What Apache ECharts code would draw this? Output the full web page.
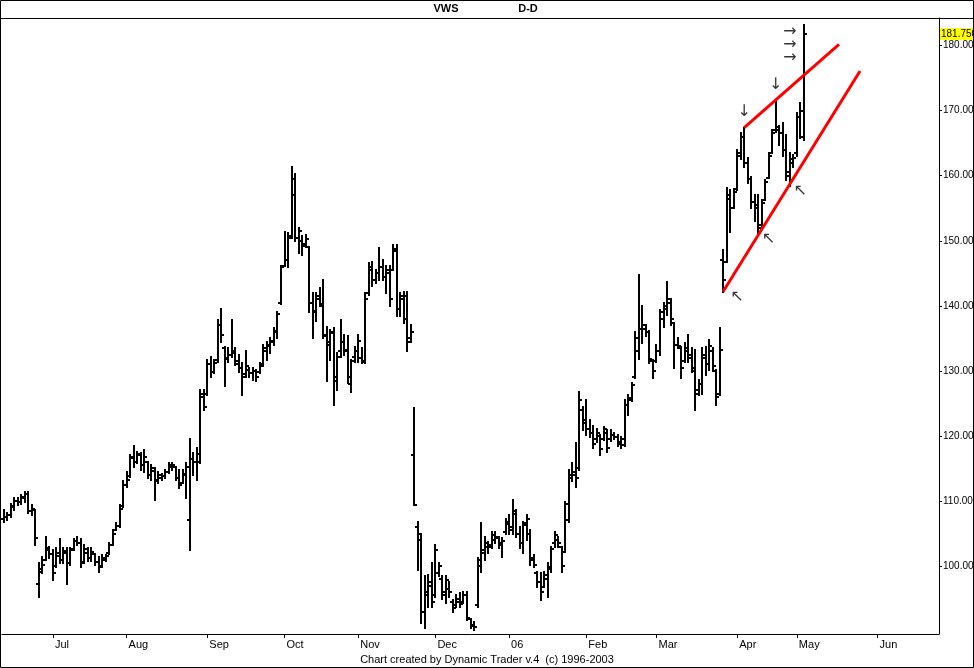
<!DOCTYPE html>
<html>
<head>
<meta charset="utf-8">
<script src="https://cdn.jsdelivr.net/npm/echarts@6/dist/echarts.min.js"></script>
<style>
html,body{margin:0;padding:0;background:#fff;}
#chart{width:974px;height:668px;}
</style>
</head>
<body>
<div id="chart"></div>
<script>
// ---- calendar (Copenhagen trading days) ----
const startDate = '2005-06-13';
const categoryCount = 267;
const holidays = ['2005-12-26', '2006-04-13', '2006-04-14', '2006-04-17'];
const monthLabels = ['06', 'Feb', 'Mar', 'Apr', 'May', 'Jun', 'Jul', 'Aug', 'Sep', 'Oct', 'Nov', 'Dec'];
const yTicks = [100, 110, 120, 130, 140, 150, 160, 170, 180];
const lastPrice = 181.75;

// ---- daily bars: [open, high, low, close] ----
const bars = [
[107.2,108.6,106.8,107.5],[107.5,108.2,107.0,107.8],[107.8,109.6,107.6,109.2],[109.0,110.4,108.6,110.0],
[110.0,110.4,109.4,109.8],[109.8,110.9,109.6,110.6],[110.4,111.4,109.9,111.0],[111.0,111.4,108.1,108.5],
[108.5,109.4,107.8,108.8],[108.6,108.6,103.2,104.3],[97.3,100.4,95.3,99.1],[99.5,101.4,98.9,100.2],
[100.9,104.5,100.9,102.8],[102.5,103.0,101.2,101.8],[101.8,102.5,97.8,99.0],[100.0,102.7,99.9,102.0],
[101.5,104.2,100.4,101.0],[101.0,102.7,100.4,102.3],[102.0,102.7,97.3,100.5],[100.5,102.7,100.2,102.5],
[102.6,104.2,102.5,103.8],[103.8,104.5,103.2,103.6],[103.6,104.2,99.9,100.5],[100.6,103.2,100.4,102.6],
[102.0,102.7,100.7,101.2],[101.2,102.7,100.7,102.2],[101.8,101.9,100.2,100.6],[100.6,101.4,99.1,99.8],
[100.0,101.7,99.9,101.2],[101.0,101.7,100.7,101.5],[102.0,103.5,101.9,103.2],[103.3,105.5,103.2,105.0],
[105.5,106.6,105.5,106.2],[106.2,109.4,106.0,108.8],[109.3,113.0,109.1,112.5],[112.4,114.5,112.2,113.3],
[113.8,117.1,113.7,116.8],[116.6,118.4,115.3,116.0],[116.0,117.6,115.8,117.2],[117.0,117.3,114.8,115.5],
[115.5,117.8,114.5,116.8],[116.0,116.0,113.5,114.0],[114.0,115.5,113.2,115.0],[114.6,115.0,110.2,113.0],
[113.2,114.5,112.7,114.0],[113.6,114.2,113.2,113.8],[113.8,114.8,113.5,114.5],[114.5,115.8,114.3,115.5],
[115.3,115.8,114.8,115.6],[115.3,115.3,113.2,113.6],[113.6,114.8,112.0,112.4],[112.7,114.8,112.7,114.2],
[114.0,115.8,110.4,115.2],[107.1,119.6,102.5,116.5],[116.5,117.3,114.0,116.0],[116.0,118.1,113.2,117.2],
[116.0,127.1,115.8,126.5],[126.0,127.1,124.0,124.5],[126.5,131.7,126.3,131.0],[131.0,132.2,129.1,129.8],
[129.8,131.7,129.6,131.2],[131.6,137.8,131.4,137.0],[137.0,139.5,134.5,135.5],[133.5,133.7,127.6,131.8],
[132.0,133.5,131.4,132.5],[132.5,137.8,132.2,132.8],[133.0,133.5,130.9,131.5],[131.0,132.5,129.9,130.5],
[130.5,131.2,126.3,129.0],[129.5,133.0,129.1,130.8],[130.2,130.4,129.1,129.6],[129.6,130.4,128.6,130.0],
[130.0,130.2,128.4,129.0],[129.8,131.2,129.6,130.8],[131.0,134.0,130.7,133.5],[133.0,134.5,131.7,134.0],
[133.8,135.0,132.7,134.6],[134.5,136.6,134.0,136.2],[136.0,139.1,135.0,138.8],[140.5,146.2,140.3,146.0],
[146.1,151.4,146.1,147.0],[147.0,151.2,146.0,150.5],[150.8,161.4,150.4,157.0],[159.5,160.2,149.9,150.5],
[150.5,152.0,148.1,151.5],[150.0,150.7,147.8,149.2],[149.5,150.9,149.1,150.2],[149.0,149.1,139.1,140.5],
[140.5,141.9,135.0,139.0],[139.2,141.9,137.6,141.5],[141.0,142.7,139.9,140.3],[140.0,144.0,135.0,135.5],
[135.3,136.8,128.4,134.0],[134.5,136.3,131.7,135.8],[136.0,136.6,124.8,129.0],[128.5,132.7,127.1,132.2],
[133.0,137.8,132.2,134.5],[134.5,135.5,132.5,133.2],[133.0,135.3,128.1,129.0],[128.0,131.7,126.8,131.5],
[132.2,133.7,131.4,133.0],[133.0,135.5,131.4,134.6],[132.0,133.5,131.2,131.5],[131.4,142.0,131.2,141.0],
[142.0,146.6,141.7,146.0],[145.5,146.8,143.0,144.0],[144.0,145.5,143.5,145.0],[145.0,148.9,144.0,146.0],
[146.0,147.1,144.0,144.5],[144.5,146.1,142.0,145.5],[145.0,146.1,139.9,141.0],[145.5,149.4,145.5,148.8],
[148.5,149.4,138.4,139.5],[139.5,142.0,138.4,141.5],[141.0,142.2,137.3,138.0],[141.5,142.2,133.0,134.5],
[135.0,137.1,134.5,136.0],[117.0,124.3,109.4,109.4],[106.0,106.8,99.4,105.0],[104.0,105.0,91.2,93.0],
[93.0,98.4,90.4,96.0],[95.5,98.6,93.7,97.5],[97.0,100.4,93.7,94.5],[95.5,103.2,95.3,102.5],
[99.0,100.4,98.4,100.0],[98.0,98.4,95.0,95.5],[96.0,98.4,94.3,97.8],[96.5,97.6,95.3,96.0],
[94.5,94.8,93.0,93.5],[94.0,95.5,93.7,95.0],[94.5,95.8,93.7,94.2],[94.5,96.0,94.3,95.5],
[95.5,96.0,91.7,92.0],[91.8,91.9,90.4,91.0],[90.8,91.4,90.2,90.6],[94.0,101.2,93.7,100.9],
[100.0,106.6,99.1,102.0],[102.5,104.5,100.9,103.5],[103.0,103.7,102.0,103.2],[103.0,105.3,102.7,104.8],
[104.0,105.3,103.5,104.5],[104.3,104.5,102.7,103.2],[103.5,104.3,101.4,103.8],[105.2,107.3,105.0,106.8],
[106.5,107.8,105.0,105.5],[106.0,110.2,105.0,108.5],[108.0,108.6,104.5,105.0],[105.0,106.0,102.7,103.5],
[103.5,106.8,102.0,106.3],[106.6,107.8,104.0,107.2],[105.0,105.5,100.2,101.0],[101.2,101.7,99.9,100.2],
[99.0,99.1,96.8,97.5],[97.5,98.9,94.8,96.0],[96.8,99.1,96.8,98.6],[98.0,100.4,95.3,99.8],
[99.5,103.0,99.1,102.6],[103.5,105.3,103.0,104.8],[104.0,104.5,103.0,103.5],[103.0,103.0,99.1,100.0],
[102.2,109.9,102.2,109.5],[107.0,114.8,106.8,114.0],[113.5,115.8,113.0,114.5],[114.0,118.9,112.2,113.5],
[115.0,126.8,114.8,125.5],[124.0,124.5,120.9,122.0],[122.5,125.5,120.2,121.0],[121.0,122.5,119.9,120.5],
[120.5,121.5,118.1,118.8],[119.5,121.0,119.1,120.5],[120.0,120.2,117.1,118.0],[119.6,121.4,119.4,121.0],
[120.5,120.9,117.6,118.2],[119.5,120.9,119.2,120.2],[120.2,120.4,119.6,119.8],[119.8,120.2,118.4,119.0],
[118.8,119.9,118.1,119.5],[118.6,125.5,118.4,124.8],[124.8,126.3,123.2,125.8],[125.5,128.1,125.3,127.8],
[129.0,136.0,128.9,135.0],[133.0,144.8,131.9,136.5],[136.5,139.9,134.3,137.0],[136.5,137.1,135.3,136.0],
[136.0,136.1,131.2,131.8],[131.5,131.7,128.9,130.0],[131.5,134.0,131.4,133.0],[133.0,139.4,132.5,139.0],
[138.0,140.4,136.8,139.5],[140.0,143.7,138.6,141.0],[140.5,141.1,137.1,138.0],[137.3,137.3,130.4,134.0],
[134.0,135.0,133.5,133.8],[133.5,133.7,128.9,130.5],[131.5,134.3,131.4,133.5],[133.0,135.5,131.4,132.0],
[132.5,133.5,129.9,130.5],[130.0,133.2,124.0,126.5],[127.0,128.6,126.3,128.0],[128.0,133.5,126.5,132.5],
[132.0,133.7,129.4,131.0],[131.0,134.8,130.2,133.8],[133.0,133.5,130.0,130.8],[130.0,130.2,124.8,126.0],
[126.5,136.6,126.3,133.2],[147.0,148.6,142.2,144.0],[146.8,158.1,146.8,157.0],[156.5,157.8,151.4,155.0],
[155.0,158.0,155.0,157.5],[158.0,164.0,157.8,163.5],[163.0,166.6,162.5,166.0],[166.0,167.3,161.4,162.0],
[162.0,162.7,158.9,159.5],[159.5,159.8,155.1,156.0],[156.0,157.0,153.0,155.5],[155.0,157.0,151.2,152.0],
[152.5,156.3,152.0,155.8],[156.3,159.4,156.3,159.0],[159.6,163.5,159.6,163.0],[163.5,167.0,163.5,166.5],
[167.0,171.4,166.8,167.5],[167.0,167.6,164.8,166.5],[166.5,168.1,163.0,164.0],[164.0,166.3,159.4,160.5],
[160.0,163.5,158.4,162.5],[162.0,163.2,161.4,162.8],[163.5,169.6,163.0,169.0],[169.0,171.2,165.8,170.0],
[166.0,183.2,165.5,181.75]
];

// ---- trend lines: [barIndex, price] ----
const upperLine = [[211, 167.4], [238, 180.2]];
const lowerLine = [[205, 142.2], [244, 176.1]];

// ---- arrow annotations: [barIndex, price, glyph] ----
const arrows = [
  [210.5, 169.8, '↓'], [219.9, 173.9, '↓'],
  [223.6, 182.1, '→'], [223.6, 180.1, '→'], [223.6, 178.1, '→'],
  [208.6, 141.4, '↖'], [217.6, 150.3, '↖'], [226.8, 157.7, '↖']
];

// build categories
function pad(n){return (n<10?'0':'')+n;}
const dates = [];
(function(){
  const d = new Date(startDate + 'T00:00:00Z');
  while (dates.length < categoryCount) {
    const wd = d.getUTCDay();
    const s = d.getUTCFullYear() + '-' + pad(d.getUTCMonth()+1) + '-' + pad(d.getUTCDate());
    if (wd !== 0 && wd !== 6 && holidays.indexOf(s) < 0) dates.push(s);
    d.setUTCDate(d.getUTCDate() + 1);
  }
})();
const monthStart = dates.map((s, i) => i > 0 && s.slice(5,7) !== dates[i-1].slice(5,7));

const FONT = 'Liberation Sans';
const chart = echarts.init(document.getElementById('chart'));

const ohlcData = bars.map((b, i) => [i, b[0], b[1], b[2], b[3]]);

chart.setOption({
  animation: false,
  backgroundColor: '#fff',
  grid: {left: 2, right: 35, top: 18, bottom: 34, containLabel: false, outerBoundsMode: 'none'},
  xAxis: {
    type: 'category', data: dates, boundaryGap: true,
    axisLine: {show: true, lineStyle: {color: '#000', width: 1}},
    axisTick: {show: true, alignWithLabel: true, length: 4, interval: (idx) => monthStart[idx], lineStyle: {color: '#000'}},
    axisLabel: {
      show: true, interval: (idx) => monthStart[idx], align: 'left', margin: 5, padding: [0,0,0,2],
      fontSize: 11, fontFamily: FONT, color: '#000',
      formatter: (v) => monthLabels[(parseInt(v.slice(5,7), 10) - 1)]
    },
    splitLine: {show: false}
  },
  yAxis: {
    type: 'value', position: 'right', min: 89.55, max: 184.25,
    axisLine: {show: true, lineStyle: {color: '#000', width: 1}},
    axisTick: {show: true, length: 3, customValues: yTicks, lineStyle: {color: '#000'}},
    axisLabel: {show: true, customValues: yTicks, margin: 4, fontSize: 10, fontFamily: FONT, color: '#000',
      formatter: (v) => v.toFixed(3)},
    splitLine: {show: false}
  },
  series: [
    {
      type: 'custom', name: 'VWS', data: ohlcData, silent: true, clip: false,
      encode: {x: 0, y: [1, 2, 3, 4]},
      renderItem: function (params, api) {
        const i = api.value(0);
        const x = Math.round(api.coord([i, api.value(2)])[0]);
        const yo = Math.round(api.coord([i, api.value(1)])[1]);
        const yh = Math.round(api.coord([i, api.value(2)])[1]);
        const yl = Math.round(api.coord([i, api.value(3)])[1]);
        const yc = Math.round(api.coord([i, api.value(4)])[1]);
        const st = {stroke: '#000', lineWidth: 2};
        return {type: 'group', children: [
          {type: 'line', shape: {x1: x, y1: yh - 1, x2: x, y2: yl + 1}, style: st},
          {type: 'line', shape: {x1: x - 3, y1: yo, x2: x, y2: yo}, style: st},
          {type: 'line', shape: {x1: x, y1: yc, x2: x + 3, y2: yc}, style: st}
        ]};
      }
    },
    {type: 'line', data: upperLine, symbol: 'none', silent: true, lineStyle: {color: '#ff0000', width: 3}},
    {type: 'line', data: lowerLine, symbol: 'none', silent: true, lineStyle: {color: '#ff0000', width: 3}},
    {
      type: 'scatter', silent: true, symbolSize: 0,
      data: arrows.map(a => ({value: [a[0], a[1]], name: a[2]})),
      label: {show: true, position: 'inside', formatter: '{b}', color: '#000', fontSize: 16, fontFamily: 'DejaVu Sans'}
    },
    {
      // last-price marker on the price axis
      type: 'custom', silent: true, clip: false, data: [[bars.length - 1, lastPrice]],
      encode: {x: 0, y: 1},
      renderItem: function (params, api) {
        const y = Math.round(api.coord([api.value(0), api.value(1)])[1]);
        const x0 = params.coordSys.x + params.coordSys.width + 1;
        return {type: 'group', children: [
          {type: 'rect', shape: {x: x0, y: y - 6, width: 974 - x0, height: 12}, style: {fill: '#ffff00'}},
          {type: 'text', x: x0 + 1, y: y, style: {text: lastPrice.toFixed(3), fontSize: 10, fontFamily: FONT, fill: '#000', verticalAlign: 'middle', align: 'left'}}
        ]};
      }
    }
  ],
  graphic: [
    {type: 'rect', shape: {x: 0.5, y: 0.5, width: 973, height: 667}, style: {fill: 'none', stroke: '#000', lineWidth: 1}, silent: true, z: 100},
    {type: 'line', shape: {x1: 0, y1: 18.5, x2: 974, y2: 18.5}, style: {stroke: '#000', lineWidth: 1}, silent: true},
    {type: 'text', x: 446, y: 9, style: {text: 'VWS', fontSize: 11, fontWeight: 'bold', fontFamily: FONT, fill: '#000', align: 'center', verticalAlign: 'middle'}},
    {type: 'text', x: 528, y: 9, style: {text: 'D-D', fontSize: 11, fontWeight: 'bold', fontFamily: FONT, fill: '#000', align: 'center', verticalAlign: 'middle'}},
    {type: 'text', x: 487, y: 660, style: {text: 'Chart created by Dynamic Trader v.4  (c) 1996-2003', fontSize: 11, fontFamily: FONT, fill: '#000', align: 'center', verticalAlign: 'middle'}}
  ]
});
</script>
</body>
</html>
